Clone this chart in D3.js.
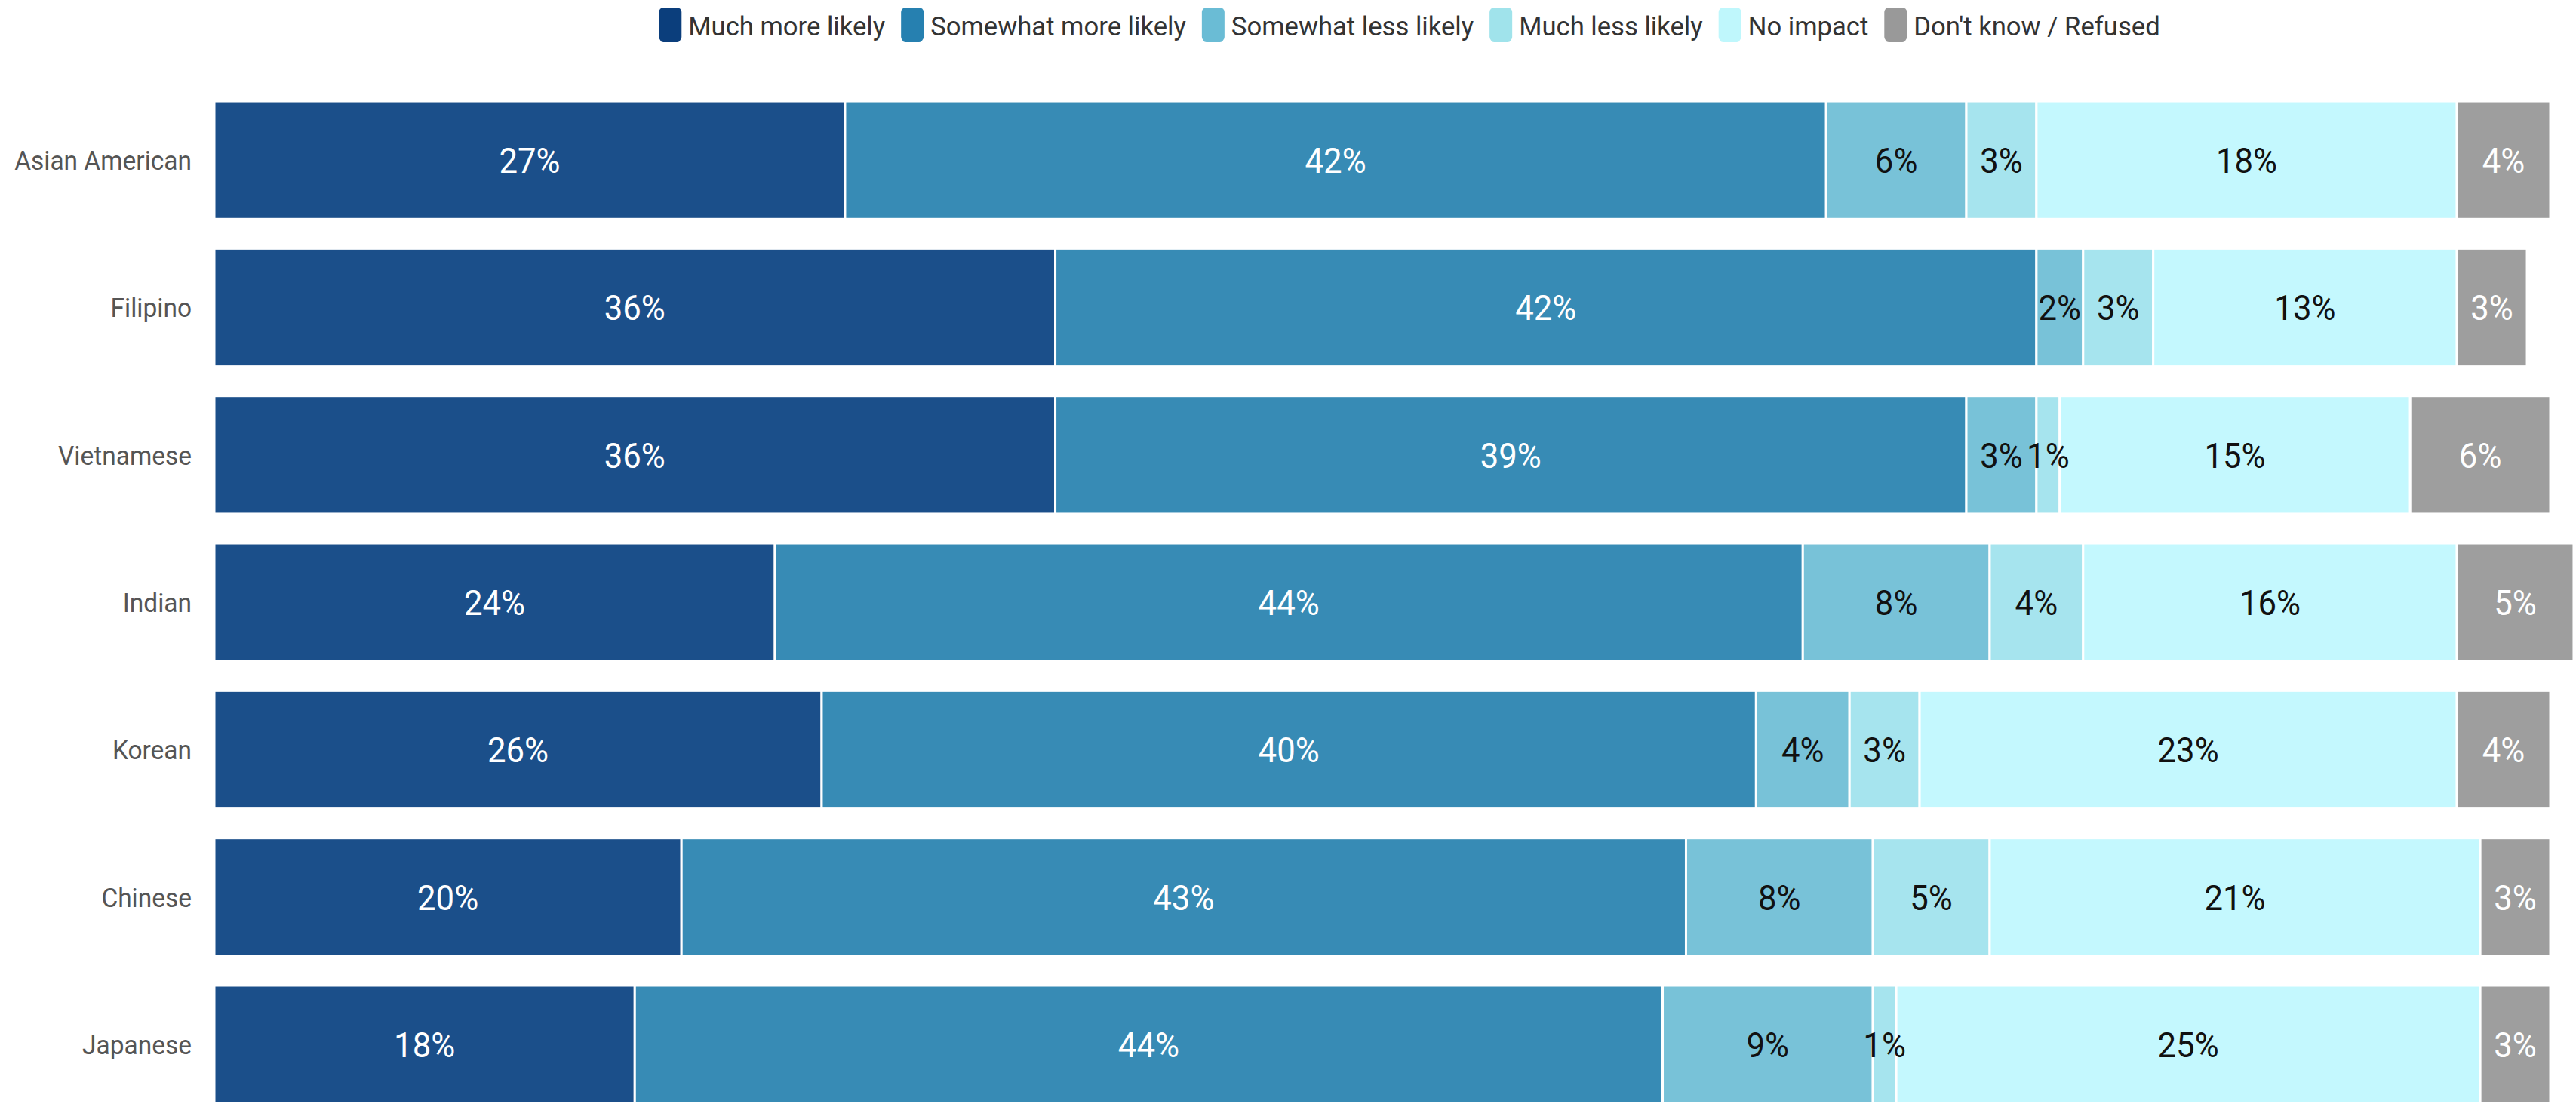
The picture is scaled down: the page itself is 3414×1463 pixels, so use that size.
<!DOCTYPE html>
<html><head><meta charset="utf-8">
<script src="https://cdn.jsdelivr.net/npm/d3@7"></script>
<style>body{margin:0;background:#fff;} svg{display:block}</style>
</head><body>
<svg id="chart" width="3414" height="1463"></svg>
<script>
const categories = ["Asian American","Filipino","Vietnamese","Indian","Korean","Chinese","Japanese"];
const seriesNames = ["Much more likely","Somewhat more likely","Somewhat less likely","Much less likely","No impact","Don't know / Refused"];
const muchMoreLikely     = [27,36,36,24,26,20,18];
const somewhatMoreLikely = [42,42,39,44,40,43,44];
const somewhatLessLikely = [6,2,3,8,4,8,9];
const muchLessLikely     = [3,3,1,4,3,5,1];
const noImpact           = [18,13,15,16,23,21,25];
const dontKnow           = [4,3,6,5,4,3,3];
const seriesValues = [muchMoreLikely,somewhatMoreLikely,somewhatLessLikely,muchLessLikely,noImpact,dontKnow];

const barColors    = ["#1b4f8a","#378bb5","#78c2d8","#a6e4ee","#c4f8fe","#9e9e9e"];
const legendColors = ["#0b3e7c","#2680b0","#6abcd5","#a0e3eb","#bff7fc","#999999"];
const labelColors  = ["#ffffff","#ffffff","#111111","#111111","#111111","#ffffff"];

const FONT = "Roboto, 'Open Sans', sans-serif";
const SX_LABEL = 0.93;
const SX_LEGEND = 0.99;

const rows = categories.map((c,i)=>{
  const o = {category:c};
  seriesNames.forEach((s,j)=>o[s]=seriesValues[j][i]);
  return o;
});

const svg = d3.select("#chart");
const x = d3.scaleLinear().domain([0,100]).range([284,3380]);
const y = d3.scaleBand().domain(categories).range([114.5,1481.8]).paddingInner(0.2).paddingOuter(0.1);

const stack = d3.stack().keys(seriesNames)(rows);

const layers = svg.append("g").selectAll("g").data(stack).join("g")
  .attr("fill",(d,i)=>barColors[i]);

layers.selectAll("rect").data(d=>d).join("rect")
  .attr("x",d=>x(d[0]))
  .attr("y",d=>y(d.data.category))
  .attr("width",d=>x(d[1])-x(d[0]))
  .attr("height",y.bandwidth())
  .attr("stroke","#ffffff")
  .attr("stroke-width",3);

// value labels
stack.forEach((layer,i)=>{
  svg.append("g").selectAll("g").data(layer).join("g")
    .attr("transform",d=>`translate(${(x(d[0])+x(d[1]))/2},${y(d.data.category)+y.bandwidth()/2})`)
    .append("text")
    .attr("transform",`scale(${SX_LABEL},1)`)
    .attr("text-anchor","middle")
    .attr("dy","0.36em")
    .attr("font-family",FONT)
    .attr("font-size",47)
    .attr("fill",labelColors[i])
    .text(d=>(d[1]-d[0])+"%");
});

// category axis labels
svg.append("g").selectAll("g").data(categories).join("g")
  .attr("transform",c=>`translate(254,${y(c)+y.bandwidth()/2})`)
  .append("text")
  .attr("transform",`scale(${SX_LABEL},1)`)
  .attr("text-anchor","end")
  .attr("dy","0.36em")
  .attr("font-family",FONT)
  .attr("font-size",36)
  .attr("fill","#555555")
  .text(c=>c);

// legend
const legend = svg.append("g");
const items = legend.selectAll("g").data(seriesNames).join("g");
items.append("rect").attr("x",0).attr("y",10).attr("width",30).attr("height",45)
  .attr("rx",6).attr("fill",(d,i)=>legendColors[i]);
items.append("text")
  .attr("transform",`translate(39,47) scale(${SX_LEGEND},1)`)
  .attr("font-family",FONT).attr("font-size",35).attr("fill","#333333")
  .text(d=>d);
let widths = [];
items.each(function(){ widths.push(d3.select(this).select("text").node().getComputedTextLength()*SX_LEGEND); });
let total = 0; const offs = [];
widths.forEach((w,i)=>{ offs.push(total); total += 39 + w + (i<widths.length-1?21:0); });
const startX = 1868 - total/2;
items.attr("transform",(d,i)=>`translate(${startX+offs[i]},0)`);
</script>
</body></html>
